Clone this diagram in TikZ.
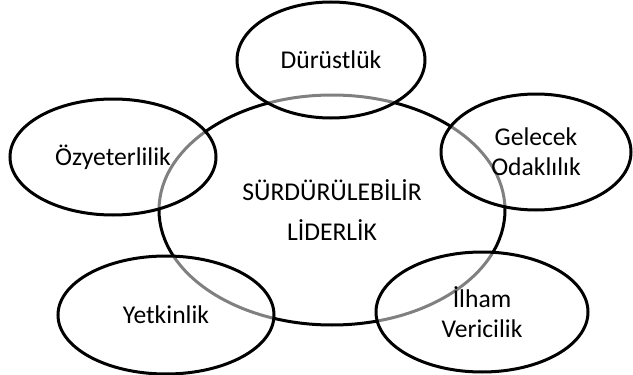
\documentclass[tikz,border=0pt]{standalone}
\usepackage{fontspec}
\setmainfont{Carlito}
\usetikzlibrary{shapes.geometric}
\begin{document}
\begin{tikzpicture}[x=0.5pt,y=-0.5pt,
  merkez/.style={ellipse,draw,line width=1.5pt,inner sep=0pt,align=center,
    font=\fontsize{12.8}{20}\selectfont},
  halka/.style={ellipse,draw,line width=1.5pt,fill=white,fill opacity=0.5,
    text opacity=1,draw opacity=1,inner sep=0pt,align=center,
    font=\fontsize{12.8}{15}\selectfont}]
\useasboundingbox (0,0) rectangle (633,375);
\node[merkez,minimum width=173pt,minimum height=115pt] (lider) at (332,210) {SÜRDÜRÜLEBİLİR\\LİDERLİK};
\node[halka,minimum width=94pt,minimum height=58pt] (durust) at (331,60) {Dürüstlük};
\node[halka,minimum width=103pt,minimum height=58pt] (ozyet) at (113,157) {Özyeterlilik};
\node[halka,minimum width=95pt,minimum height=58pt] (gelecek) at (536,152) {Gelecek\\Odaklılık};
\node[halka,minimum width=108pt,minimum height=59pt] (yetkin) at (166,315) {Yetkinlik};
\node[halka,minimum width=106pt,minimum height=60pt] (ilham) at (482,312) {İlham\\Vericilik};
\end{tikzpicture}
\end{document}
